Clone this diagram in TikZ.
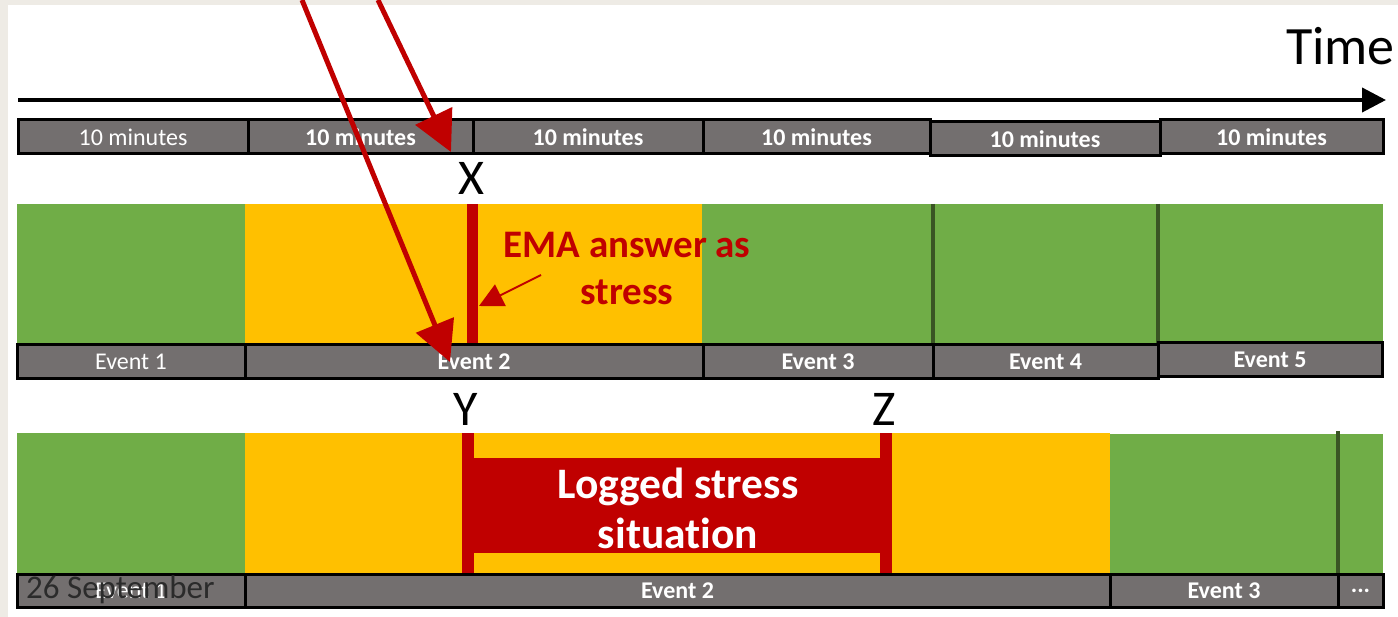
\documentclass[tikz,border=0pt]{standalone}
\usepackage{fontspec}
\setmainfont{Carlito}[Ligatures={NoCommon}]
\usetikzlibrary{arrows.meta}

\definecolor{paper}{HTML}{EEEBE5}
\definecolor{segfill}{HTML}{736F6F}
\definecolor{okgreen}{HTML}{70AD47}
\definecolor{warnyellow}{HTML}{FFC000}
\definecolor{divgreen}{HTML}{3A5524}
\definecolor{stressred}{HTML}{C00000}
\definecolor{datecol}{HTML}{2B2B2B}

\tikzset{
  seg/.style={draw=black, line width=3pt, fill=segfill, text=white, inner sep=0pt,
    minimum height=34pt, font=\fontsize{24}{26}\selectfont\bfseries},
  segplain/.style={seg, font=\fontsize{24}{26}\selectfont},
  pointlabel/.style={inner sep=0pt, font=\fontsize{50}{50}\selectfont},
  divider/.style={draw=divgreen, line width=4pt},
  redpointer/.style={draw=stressred, line width=5pt,
    -{Triangle[length=40pt,width=40pt]}},
}

\begin{document}
\begin{tikzpicture}[x=1pt,y=-1pt]
  \useasboundingbox (0,0) rectangle (1398,617);
  % page background
  \fill[paper] (0,0) rectangle (1398,617);
  \fill[white] (8,5) rectangle (1398,617);

  % time axis
  \node[anchor=base east, inner sep=0pt, font=\fontsize{54}{54}\selectfont] (timelbl) at (1395,65) {Time};
  \coordinate (axL) at (18,100);
  \coordinate (axR) at (1386,100);
  \draw[line width=4pt, -{Triangle[length=24pt,width=24pt]}] (axL) -- (axR);

  % ten-minute intervals
  \node[segplain, minimum width=230pt] (m1) at (133,137)    {10 minutes};
  \node[seg, minimum width=225pt]      (m2) at (360.5,137)  {10 minutes};
  \node[seg, minimum width=230pt]      (m3) at (588,137)    {10 minutes};
  \node[seg, minimum width=227pt]      (m4) at (816.5,137)  {10 minutes};
  \node[seg, minimum width=230pt]      (m5) at (1045,139)   {10 minutes};
  \node[seg, minimum width=223pt]      (m6) at (1271.5,137) {10 minutes};

  % first timeline: state bars
  \fill[okgreen]    (17,204)  rectangle (245,344);
  \fill[warnyellow] (245,204) rectangle (702,344);
  \fill[okgreen]    (702,204) rectangle (1383,344);
  \draw[divider] (933,204) -- (933,344);
  \draw[divider] (1158,204) -- (1158,344);

  \node[pointlabel] (lblX) at (471,178) {X};
  \node[fill=stressred, inner sep=0pt, minimum width=11pt, minimum height=140pt] (emabar) at (472.5,274) {};
  \node[text=stressred, align=center, inner sep=0pt,
        font=\fontsize{39}{47}\selectfont\bfseries] (ematext) at (627,268) {EMA answer as\\stress};
  \coordinate (emaFrom) at (541,275);
  \coordinate (emaTip) at (479,306);
  \draw[draw=stressred, line width=2pt, -{Triangle[length=24pt,width=24pt]}] (emaFrom) -- (emaTip);

  % first timeline: events
  \node[segplain, minimum width=228pt] (ea1) at (131,362)    {Event 1};
  \node[seg, minimum width=458pt]      (ea2) at (474,362)    {Event 2};
  \node[seg, minimum width=230pt]      (ea3) at (818,362)    {Event 3};
  \node[seg, minimum width=225pt]      (ea4) at (1045.5,362) {Event 4};
  \node[seg, minimum width=224pt]      (ea5) at (1270,360)   {Event 5};

  % second timeline: state bars
  \fill[okgreen]    (17,433)   rectangle (245,573);
  \fill[warnyellow] (245,433)  rectangle (1110,573);
  \fill[okgreen]    (1110,434) rectangle (1383,573);
  \draw[divider] (1338,431) -- (1338,573);

  \node[pointlabel] (lblY) at (466,409) {Y};
  \node[pointlabel] (lblZ) at (884,409) {Z};
  \node[fill=stressred, inner sep=0pt, minimum width=12pt, minimum height=140pt] (ybar) at (468,503) {};
  \node[fill=stressred, inner sep=0pt, minimum width=12pt, minimum height=140pt] (zbar) at (886,503) {};
  \node[fill=stressred, inner sep=0pt, minimum width=406pt, minimum height=95pt] (logged) at (677,505.5) {};
  \node[text=white, align=center, inner sep=0pt,
        font=\fontsize{43.5}{50}\selectfont\bfseries] (loggedtext) at (678,508) {Logged stress\\situation};

  % second timeline: events
  \node[segplain, minimum width=228pt, minimum height=33pt] (eb1) at (131,590.5) {Event 1};
  \node[seg, minimum width=865pt, minimum height=33pt] (eb2) at (677.5,590.5)  {Event 2};
  \node[seg, minimum width=228pt, minimum height=33pt] (eb3) at (1224,590.5)   {Event 3};
  \node[seg, minimum width=45pt,  minimum height=33pt] (eb4) at (1360.5,590.5) {...};

  % footer date, printed over the first event box
  \node[anchor=base west, inner sep=0pt, text=datecol,
        font=\fontsize{33}{33}\selectfont] (date) at (26,598) {26 September};

  % pointers from above
  \coordinate (pA) at (378,0);
  \coordinate (pAtip) at (451,152);
  \coordinate (pB) at (302,0);
  \coordinate (pBtip) at (450,362);
  \draw[redpointer] (pA) -- (pAtip);
  \draw[redpointer] (pB) -- (pBtip);
\end{tikzpicture}
\end{document}
